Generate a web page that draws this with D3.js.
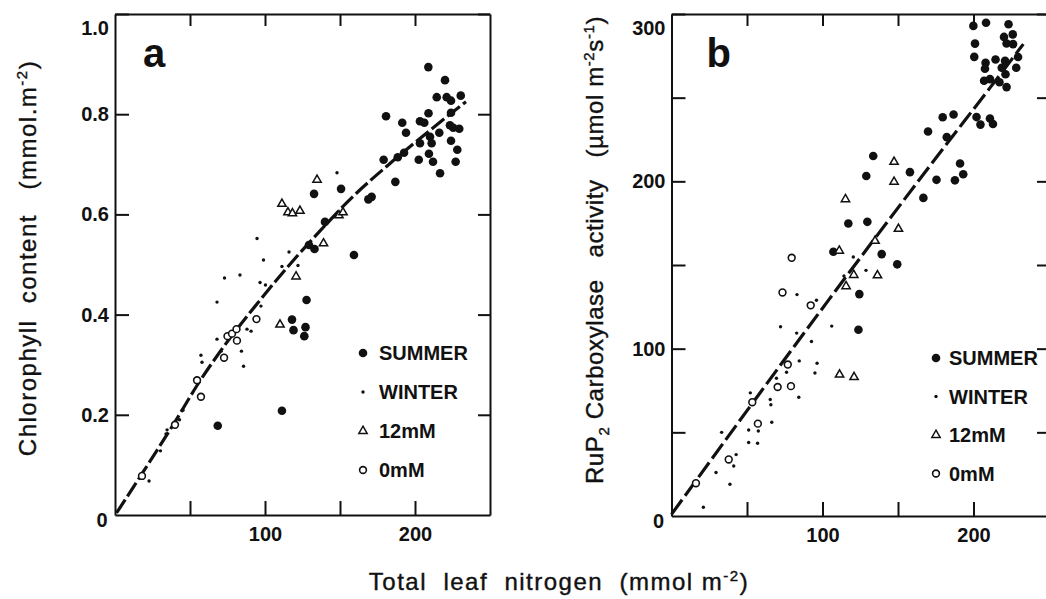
<!DOCTYPE html>
<html>
<head>
	<meta charset="utf-8">
	<title>Chlorophyll and RuP2 carboxylase vs leaf nitrogen</title>
	<script src="https://d3js.org/d3.v7.min.js"></script>
	<style>
		body { margin: 0; background: #fff; }
		svg text { font-family: "Liberation Sans", Arial, sans-serif; fill: #111; white-space: pre; }
		.title { stroke: #111; stroke-width: 0.4px; }
	</style>
</head>
<body>
	<div class="chart"></div>

	<script type="text/javascript">

		// data: [total leaf nitrogen (mmol m-2), value]

		// panel a: chlorophyll content (mmol m-2)
		const chlSummer = [
			[68.5, 0.178], [111.3, 0.208], [118, 0.39], [119, 0.369], [127, 0.375], [126.2, 0.357],
			[127.7, 0.429], [129.3, 0.539], [133, 0.531], [159.3, 0.519], [140, 0.585], [132.7, 0.641],
			[150.7, 0.651], [171.1, 0.635], [168.9, 0.63], [186.9, 0.665], [179.1, 0.709], [188.5, 0.714],
			[192.7, 0.723], [180.7, 0.796], [191.5, 0.783], [194, 0.763], [202.5, 0.709], [203.3, 0.742],
			[203.3, 0.786], [206.2, 0.783], [209.3, 0.721], [212, 0.705], [210, 0.755], [211.1, 0.742],
			[209, 0.802], [216.7, 0.682], [216.2, 0.763], [214.5, 0.834], [221.1, 0.834], [224, 0.827],
			[230.5, 0.837], [224, 0.803], [223.3, 0.778], [225.5, 0.773], [229.5, 0.771], [224, 0.747],
			[228.2, 0.729], [227.1, 0.705], [208.9, 0.894], [220, 0.868]
		]
		const chlWinter = [
			[148, 0.683], [94.7, 0.552], [116, 0.525], [99, 0.509], [111.3, 0.496], [122, 0.498],
			[83.3, 0.479], [73, 0.473], [96.7, 0.464], [100.3, 0.459], [97.3, 0.417], [68, 0.425],
			[68, 0.351], [57.3, 0.319], [58, 0.305], [70.7, 0.327], [84.3, 0.327], [85.7, 0.297],
			[88, 0.371], [90.7, 0.367], [45.3, 0.209], [43, 0.19], [34.7, 0.17], [34, 0.162],
			[30.3, 0.128], [22.7, 0.068]
		]
		const chl12mM = [
			[111.3, 0.621], [115.3, 0.604], [118.3, 0.602], [123.3, 0.607], [134.7, 0.669],
			[149.3, 0.598], [152, 0.604], [139, 0.542], [120.7, 0.476], [110, 0.38]
		]
		const chl0mM = [
			[18, 0.078], [40, 0.18], [54.7, 0.269], [57.3, 0.236], [72.7, 0.314],
			[75, 0.357], [78, 0.362], [81, 0.371], [81.3, 0.348], [94.3, 0.391]
		]
		// points
		const chlCurve = [
			[1, 0.004], [19, 0.087], [40, 0.186], [55, 0.26], [71, 0.33], [97, 0.43],
			[120, 0.512], [137, 0.568], [155, 0.625], [185, 0.706], [210, 0.768], [234, 0.825]
		]

		// panel b: RuP2 carboxylase activity (umol m-2 s-1)
		const rubSummer = [
			[199.9, 292.9], [208.3, 294.8], [223.2, 293.9], [201, 282.3], [200.5, 274.4], [220.2, 286.3],
			[226, 287.8], [221.9, 282.4], [226.2, 282], [208, 270.8], [207.6, 267.3], [214.6, 272.8],
			[220.9, 272], [229.5, 274.3], [228.3, 267.9], [218.7, 267.9], [207, 260.1], [210.9, 261.1],
			[217.2, 259.2], [221.2, 264], [221.9, 256.3], [202, 238.4], [204.6, 233.9], [210.9, 237.5],
			[212.9, 234.3], [179.6, 238.3], [186.8, 239.9], [169.9, 229.8], [182.3, 226.4], [133.6, 215.1],
			[157.9, 205.5], [129, 203.2], [175.5, 200.9], [187.7, 200.6], [193.2, 204.2], [191.1, 210.7],
			[166.8, 190.1], [117.1, 174.8], [129.7, 175.8], [107.2, 157.9], [139.2, 156.5], [149.5, 150.4],
			[124.4, 132.6], [123.8, 111.3]
		]
		const rubWinter = [
			[120.4, 154.8], [114.2, 143.5], [128.8, 146.8], [83.1, 132.3], [96, 128.9], [72.2, 113.1],
			[82.9, 109.3], [106.1, 113.5], [92.7, 104.3], [84.6, 92.7], [96.4, 91.3], [95, 85.5],
			[76.2, 85.9], [69.5, 82.3], [52.2, 73.6], [65.4, 69.6], [65.8, 66.5], [84.3, 71],
			[66.4, 56], [51.1, 51.4], [57.5, 50.8], [33.2, 50], [51.1, 43.9], [57, 43.5],
			[42.8, 36.7], [41.2, 29.9], [29.5, 26], [38.7, 19], [21.1, 5.2]
		]
		const rub12mM = [
			[147.4, 211.6], [147.4, 199.7], [115.2, 189.3], [150.3, 171.6], [134.8, 164.4], [111.1, 158.5],
			[120.7, 144], [136.4, 143.8], [115.6, 137.3], [111.3, 84.5], [120.9, 83]
		]
		const rub0mM = [
			[79.6, 154.3], [73.5, 133.6], [92.2, 125.9], [77, 90.5], [70.3, 77.1],
			[79.1, 77.6], [53.5, 68], [57.2, 55.2], [37.9, 33.8], [16.2, 19.6]
		]
		const rubLine = [[0, 1], [104, 129], [175.6, 214.5], [211, 256], [233, 282]]

		// axes and legend text
		const nitrogenTicks = [50, 100, 150, 200]
		const nitrogenLabels = [100, 200]
		const chlTicks = [0.2, 0.4, 0.6, 0.8, 1.0]
		const rubTicks = [50, 100, 150, 200, 250, 300]
		const rubLabels = [100, 200, 300]
		const legendLabels = ['SUMMER', 'WINTER', '12mM', '0mM']
		const legendKeys = ['summer', 'winter', 'n12', 'n0']

		var width = 1046
		var height = 599

		var svg = d3
			.select('.chart')
			.append('svg')
			.attr('width', width)
			.attr('height', height)
			.style('background-color', '#fff')

		// marker drawing per series
		function drawMarker(sel, key) {
			if (key === 'summer') {
				sel.append('circle').attr('r', 4.3).attr('fill', '#111')
			} else if (key === 'winter') {
				sel.append('circle').attr('r', 1.7).attr('fill', '#111')
			} else if (key === 'n12') {
				sel.append('path')
					.attr('d', d3.symbol(d3.symbolTriangle, 30)())
					.attr('fill', '#fff').attr('stroke', '#111').attr('stroke-width', 1.5)
			} else {
				sel.append('circle').attr('r', 3.4)
					.attr('fill', '#fff').attr('stroke', '#111').attr('stroke-width', 1.6)
			}
		}

		function drawPanel(p) {
			const g = svg.append('g')
			const x = p.x, y = p.y
			const x0 = x.range()[0], x1 = x.range()[1]
			const y0 = y.range()[0], y1 = y.range()[1]

			// frame with inward ticks
			g.append('g').attr('class', 'axis')
				.attr('transform', `translate(0, ${y0})`)
				.call(d3.axisBottom(x).tickValues(nitrogenTicks).tickSize(-14).tickSizeOuter(0).tickPadding(12)
					.tickFormat(d => nitrogenLabels.includes(d) ? d : ''))
			g.append('g').attr('class', 'axis')
				.attr('transform', `translate(0, ${y1})`)
				.call(d3.axisTop(x).tickValues(nitrogenTicks).tickSize(-12).tickSizeOuter(0).tickFormat(''))
			const left = g.append('g').attr('class', 'axis')
				.attr('transform', `translate(${x0}, 0)`)
				.call(d3.axisLeft(y).tickValues(p.yTicks).tickSize(-14).tickSizeOuter(0).tickPadding(6)
					.tickFormat(p.yFormat))
			g.append('g').attr('class', 'axis')
				.attr('transform', `translate(${x1}, 0)`)
				.call(d3.axisRight(y).tickValues(p.yTicks).tickSize(-12).tickSizeOuter(0).tickFormat(''))

			// top label sits a bit below the frame corner
			left.selectAll('.tick text').filter(d => d === y.domain()[1]).attr('dy', '1.0em')

			g.selectAll('.axis path, .axis line').attr('stroke', '#111').attr('stroke-width', 2)
			g.selectAll('.axis text')
				.attr('fill', '#111')
				.style('font-size', '20px')
				.style('font-weight', 'bold')
				.style('font-family', '"Liberation Sans", Arial, sans-serif')

			// shared zero at the corner
			g.append('text')
				.attr('x', x0 - 13).attr('y', y0 + 12)
				.attr('text-anchor', 'middle')
				.style('font-size', '20px').style('font-weight', 'bold')
				.text('0')

			// panel letter
			g.append('text')
				.attr('x', x0 + p.letterDx).attr('y', y1 + 53)
				.style('font-size', '40px').style('font-weight', 'bold')
				.text(p.letter)

			// fitted line
			g.append('path')
				.datum(p.line)
				.attr('fill', 'none')
				.attr('stroke', '#111')
				.attr('stroke-width', 3.2)
				.attr('stroke-dasharray', p.dash)
				.attr('d', d3.line().x(d => x(d[0])).y(d => y(d[1])).curve(d3.curveMonotoneX))

			// points
			p.series.forEach((s, i) => {
				const pts = g.append('g').selectAll('g').data(s).enter().append('g')
					.attr('transform', d => `translate(${x(d[0])}, ${y(d[1])})`)
				drawMarker(pts, legendKeys[i])
			})

			// legend
			const lg = g.append('g').attr('transform', `translate(${p.legend[0]}, ${p.legend[1]})`)
			legendLabels.forEach((lab, i) => {
				const row = lg.append('g').attr('transform', `translate(0, ${i * p.legend[2]})`)
				drawMarker(row, legendKeys[i])
				row.append('text')
					.attr('x', p.legend[3]).attr('dy', '0.36em')
					.style('font-size', '20px').style('font-weight', 'bold')
					.text(lab)
			})
		}

		drawPanel({
			x: d3.scaleLinear().domain([0, 250]).range([115, 490]),
			y: d3.scaleLinear().domain([0, 1]).range([515, 14]),
			yTicks: chlTicks,
			yFormat: d3.format('.1f'),
			series: [chlSummer, chlWinter, chl12mM, chl0mM],
			line: chlCurve,
			dash: '16,4',
			letter: 'a',
			letterDx: 28,
			legend: [363, 353, 39, 16]
		})

		drawPanel({
			x: d3.scaleLinear().domain([0, 250]).range([671.5, 1049]),
			y: d3.scaleLinear().domain([0, 300]).range([516, 14]),
			yTicks: rubTicks,
			yFormat: d => rubLabels.includes(d) ? d : '',
			series: [rubSummer, rubWinter, rub12mM, rub0mM],
			line: rubLine,
			dash: '18,5',
			letter: 'b',
			letterDx: 35,
			legend: [936, 358, 38.5, 13]
		})

		// axis titles
		const titleA = svg.append('text')
			.attr('class', 'title')
			.attr('transform', 'translate(36, 258) rotate(-90)')
			.attr('text-anchor', 'middle')
			.style('font-size', '24px')
			.style('letter-spacing', '1.5px')
		titleA.append('tspan').text('Chlorophyll  content   (mmol.m')
		titleA.append('tspan').attr('dy', -9).style('font-size', '15px').text('-2')
		titleA.append('tspan').attr('dy', 9).text(')')

		const titleB = svg.append('text')
			.attr('class', 'title')
			.attr('transform', 'translate(603, 250) rotate(-90)')
			.attr('text-anchor', 'middle')
			.style('font-size', '24px')
			.style('letter-spacing', '0.6px')
		titleB.append('tspan').text('RuP')
		titleB.append('tspan').attr('dy', 6).style('font-size', '15px').text('2')
		titleB.append('tspan').attr('dy', -6).text(' Carboxylase   activity   (µmol m')
		titleB.append('tspan').attr('dy', -9).style('font-size', '15px').text('-2')
		titleB.append('tspan').attr('dy', 9).text('s')
		titleB.append('tspan').attr('dy', -9).style('font-size', '15px').text('-1')
		titleB.append('tspan').attr('dy', 9).text(')')

		const titleX = svg.append('text')
			.attr('class', 'title')
			.attr('x', 559).attr('y', 590)
			.attr('text-anchor', 'middle')
			.style('font-size', '24px')
			.style('letter-spacing', '1.5px')
		titleX.append('tspan').text('Total  leaf  nitrogen  (mmol m')
		titleX.append('tspan').attr('dy', -9).style('font-size', '15px').text('-2')
		titleX.append('tspan').attr('dy', 9).text(')')

	</script>
</body>
</html>
